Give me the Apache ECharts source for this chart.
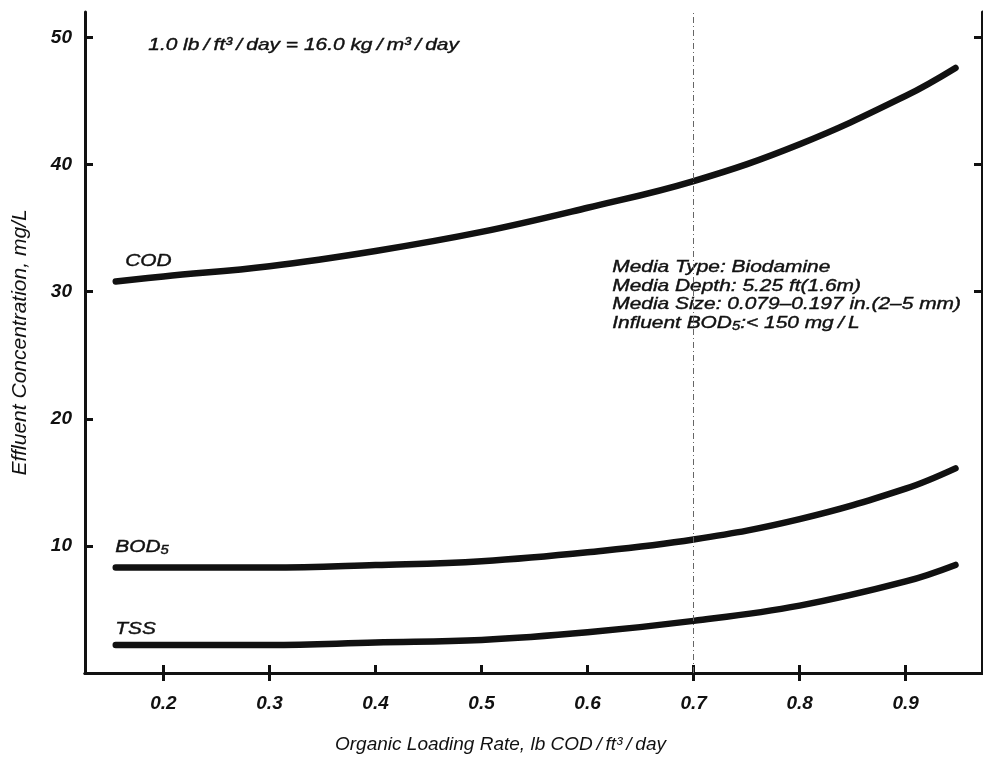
<!DOCTYPE html>
<html>
<head>
<meta charset="utf-8">
<script src="https://cdn.jsdelivr.net/npm/echarts@6/dist/echarts.min.js"></script>
<style>
  html, body { margin: 0; padding: 0; background: #fff; }
  #chart { width: 983px; height: 760px; }
</style>
</head>
<body>
<div id="chart"></div>
<script>
// loading rate, lb COD/ft3/day
var loading = [0.155, 0.2, 0.3, 0.4, 0.5, 0.6, 0.7, 0.8, 0.9, 0.947];
// effluent concentrations, mg/L
var cod = [30.8, 31.2, 32.0, 33.2, 34.7, 36.6, 38.7, 41.6, 45.4, 47.6];
var bod5 = [8.3, 8.3, 8.3, 8.5, 8.8, 9.5, 10.5, 12.1, 14.5, 16.1];
var tss = [2.2, 2.2, 2.2, 2.4, 2.6, 3.2, 4.1, 5.3, 7.2, 8.5];

var xTicks = [0.2, 0.3, 0.4, 0.5, 0.6, 0.7, 0.8, 0.9];
var xTopTicks = [0.2, 0.3, 0.7, 0.8, 0.9];
var yTicks = [10, 20, 30, 40, 50];
var yRightTicks = [30, 40, 50];
var foldLine = 0.7;

var font = '"Liberation Sans", Arial, Helvetica, sans-serif';
var ink = '#111';
var ts = '\u2009'; // thin space round the slashes

function pairs(ys) {
  return loading.map(function (x, i) {
    return [x, ys[i]];
  });
}

function curve(name, ys) {
  return {
    name: name,
    type: 'line',
    smooth: 0.4,
    showSymbol: false,
    silent: true,
    lineStyle: { color: ink, width: 6.5, cap: 'round' },
    data: pairs(ys)
  };
}

// scanned lettering is wider than Liberation Sans, so stretch it a bit
function label(text, x, y) {
  return {
    type: 'text',
    left: x,
    top: y,
    scaleX: 1.23,
    style: {
      text: text,
      font: 'italic 17px ' + font,
      fill: ink,
      stroke: ink,
      lineWidth: 0.4,
      lineHeight: 18.7,
      rich: {
        sub: { fontSize: 12, fontStyle: 'italic', verticalAlign: 'bottom', padding: [7, 0, 0, 0], fill: ink }
      }
    }
  };
}

var axisLine = { show: true, lineStyle: { color: ink, width: 3 } };
var tick = { show: true, inside: true, length: 8, lineStyle: { color: ink, width: 3 } };

var series = [curve('COD', cod), curve('BOD5', bod5), curve('TSS', tss)];
series[0].markLine = {
  silent: true,
  symbol: 'none',
  label: { show: false },
  lineStyle: { color: '#666', width: 1, type: [6, 3, 1, 3] },
  data: [{ xAxis: foldLine }]
};

echarts.init(document.getElementById('chart'), null, { renderer: 'canvas' }).setOption({
  animation: false,
  grid: { left: 85, right: 1, top: 12, bottom: 87 },
  xAxis: [{
    type: 'value',
    min: 0.126,
    max: 0.972,
    name: 'Organic Loading Rate, lb COD' + ts + '/' + ts + 'ft³' + ts + '/' + ts + 'day',
    nameLocation: 'middle',
    nameGap: 62,
    nameTextStyle: { fontFamily: font, fontStyle: 'italic', fontSize: 19, color: ink, padding: [0, 66, 0, 0] },
    axisLine: axisLine,
    axisTick: Object.assign({ customValues: xTicks }, tick),
    axisLabel: {
      customValues: xTicks,
      margin: 21,
      fontFamily: font,
      fontStyle: 'italic',
      fontWeight: 'bold',
      fontSize: 19,
      color: ink,
      formatter: function (v) { return v.toFixed(1); }
    },
    splitLine: { show: false }
  }, {
    type: 'value',
    position: 'top',
    min: 0.126,
    max: 0.972,
    axisLine: axisLine,
    axisTick: Object.assign({ customValues: xTopTicks }, tick),
    axisLabel: { show: false },
    splitLine: { show: false }
  }],
  yAxis: [{
    type: 'value',
    min: 0,
    max: 52,
    name: 'Effluent Concentration, mg/L',
    nameLocation: 'middle',
    nameGap: 54,
    nameTextStyle: { fontFamily: font, fontStyle: 'italic', fontSize: 21, color: ink },
    axisLine: axisLine,
    axisTick: Object.assign({ customValues: yTicks }, tick),
    axisLabel: {
      customValues: yTicks,
      margin: 13,
      fontFamily: font,
      fontStyle: 'italic',
      fontWeight: 'bold',
      fontSize: 19,
      color: ink
    },
    splitLine: { show: false }
  }, {
    type: 'value',
    position: 'right',
    min: 0,
    max: 52,
    axisLine: axisLine,
    axisTick: Object.assign({ customValues: yRightTicks }, tick),
    axisLabel: { show: false },
    splitLine: { show: false }
  }],
  graphic: [
    label('1.0 lb' + ts + '/' + ts + 'ft³' + ts + '/' + ts + 'day = 16.0 kg' + ts + '/' + ts + 'm³' + ts + '/' + ts + 'day', 148, 36),
    label('Media Type: Biodamine\nMedia Depth: 5.25 ft(1.6m)\nMedia Size: 0.079–0.197 in.(2–5 mm)\nInfluent BOD{sub|5}:< 150 mg' + ts + '/' + ts + 'L', 612, 258),
    label('COD', 125, 252),
    label('BOD{sub|5}', 115, 538),
    label('TSS', 115, 620)
  ],
  series: series
});
</script>
</body>
</html>
